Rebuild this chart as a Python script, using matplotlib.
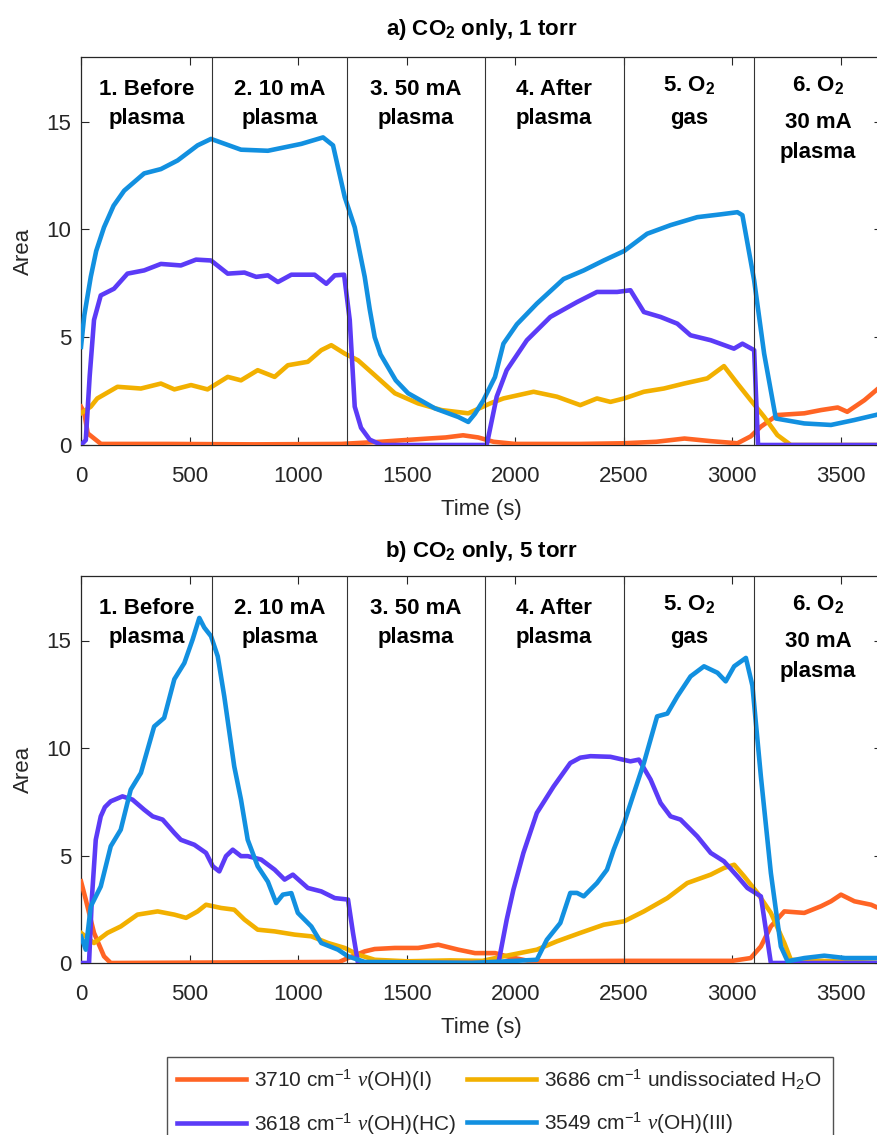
import numpy as np
import matplotlib.pyplot as plt

plt.rcParams['font.family'] = ['Liberation Sans', 'DejaVu Sans']
plt.rcParams['mathtext.fontset'] = 'custom'
plt.rcParams['mathtext.rm'] = 'Liberation Sans'
plt.rcParams['mathtext.it'] = 'Liberation Serif:italic'
plt.rcParams['mathtext.bf'] = 'Liberation Sans:bold'

# ---- data: time (s) and peak area ----
# a) CO2 only, 1 torr
a_oh1_t = [0, 15, 31, 92, 400, 800, 1200, 1380, 1450, 1600, 1680, 1760, 1830, 1900, 2000, 2300, 2500,
           2650, 2780, 2900, 3024, 3085, 3132, 3208, 3332, 3409, 3486, 3530, 3609, 3690]
a_oh1_v = [1.78, 1.5, 0.54, 0.05, 0.05, 0.03, 0.05, 0.15, 0.2, 0.3, 0.35, 0.45, 0.35, 0.15, 0.05, 0.05, 0.08,
           0.15, 0.3, 0.18, 0.08, 0.4, 0.85, 1.39, 1.47, 1.62, 1.74, 1.54, 2.08, 2.77]

a_h2o_t = [0, 45, 75, 168, 276, 368, 430, 507, 583, 676, 737, 814, 892, 953, 1045, 1107, 1153, 1215, 1276,
           1353, 1446, 1553, 1661, 1784, 1885, 1946, 2085, 2193, 2300, 2377, 2439, 2502, 2593, 2685, 2778,
           2885, 2962, 3024, 3085, 3147, 3208, 3270, 3690]
a_h2o_v = [1.47, 1.78, 2.16, 2.7, 2.62, 2.85, 2.58, 2.78, 2.58, 3.16, 3.0, 3.47, 3.16, 3.7, 3.86, 4.4, 4.63,
           4.24, 3.93, 3.24, 2.4, 1.93, 1.62, 1.47, 1.93, 2.16, 2.47, 2.24, 1.85, 2.16, 2.0, 2.16, 2.47, 2.62,
           2.85, 3.09, 3.66, 2.85, 2.08, 1.31, 0.46, 0.0, 0.0]

a_hc_t = [0, 22, 40, 60, 91, 152, 214, 291, 368, 460, 530, 599, 676, 753, 807, 861, 907, 969, 1076, 1130,
          1169, 1212, 1238, 1261, 1290, 1330, 1384, 1869, 1915, 1961, 2054, 2162, 2285, 2377, 2470, 2531,
          2593, 2670, 2747, 2808, 2901, 3008, 3047, 3101, 3119, 3690]
a_hc_v = [0, 0.23, 3.2, 5.8, 6.94, 7.25, 7.95, 8.1, 8.4, 8.33, 8.6, 8.56, 7.95, 8.0, 7.8, 7.87, 7.56, 7.9,
          7.9, 7.48, 7.87, 7.9, 5.8, 1.78, 0.8, 0.25, 0.0, 0.0, 2.24, 3.47, 4.86, 5.94, 6.63, 7.1, 7.1, 7.18,
          6.17, 5.94, 5.63, 5.09, 4.86, 4.47, 4.7, 4.4, 0.0, 0.0]

a_oh3_t = [0, 15, 45, 70, 106, 150, 199, 291, 368, 445, 537, 599, 737, 861, 1015, 1115, 1161, 1215, 1261,
           1307, 1330, 1353, 1380, 1415, 1450, 1507, 1630, 1738, 1784, 1815, 1854, 1907, 1946, 2008, 2100,
           2223, 2316, 2408, 2502, 2608, 2716, 2839, 2947, 3024, 3047, 3101, 3147, 3201, 3332, 3455, 3563,
           3690]
a_oh3_v = [4.55, 6.0, 7.8, 9.0, 10.1, 11.1, 11.8, 12.6, 12.8, 13.2, 13.9, 14.2, 13.7, 13.65, 13.97, 14.27,
           13.9, 11.5, 10.1, 7.8, 6.3, 5.0, 4.2, 3.6, 3.0, 2.4, 1.7, 1.3, 1.07, 1.45, 2.08, 3.15, 4.7, 5.6,
           6.56, 7.7, 8.1, 8.56, 9.0, 9.8, 10.2, 10.57, 10.7, 10.8, 10.66, 7.64, 4.24, 1.23, 1.0, 0.93, 1.16,
           1.46]

# b) CO2 only, 5 torr
b_oh1_t = [0, 22, 60, 106, 137, 1190, 1230, 1307, 1353, 1446, 1553, 1646, 1738, 1815, 1908, 1961, 2069,
           2500, 3000, 3085, 3132, 3178, 3240, 3332, 3409, 3455, 3501, 3563, 3640, 3690]
b_oh1_v = [3.8, 2.95, 1.4, 0.31, 0.0, 0.05, 0.23, 0.54, 0.65, 0.7, 0.7, 0.85, 0.62, 0.46, 0.46, 0.31, 0.08,
           0.1, 0.1, 0.23, 0.77, 1.7, 2.4, 2.33, 2.64, 2.87, 3.18, 2.87, 2.71, 2.48]

b_h2o_t = [0, 60, 122, 183, 260, 353, 430, 484, 537, 576, 645, 706, 753, 814, 892, 984, 1061, 1138, 1215,
           1276, 1353, 1500, 1700, 1850, 1946, 2100, 2193, 2300, 2408, 2502, 2593, 2701, 2793, 2901, 2962,
           3009, 3055, 3116, 3178, 3240, 3270, 3690]
b_h2o_v = [1.4, 0.93, 1.4, 1.7, 2.25, 2.4, 2.25, 2.1, 2.4, 2.71, 2.56, 2.48, 2.02, 1.55, 1.47, 1.32, 1.24,
           0.93, 0.7, 0.39, 0.15, 0.08, 0.12, 0.1, 0.31, 0.62, 1.01, 1.4, 1.78, 1.94, 2.4, 3.02, 3.72, 4.11,
           4.42, 4.57, 4.03, 3.26, 2.33, 0.93, 0.15, 0.0]

b_hc_t = [0, 37, 50, 68, 91, 110, 137, 191, 237, 291, 330, 376, 430, 460, 522, 576, 607, 637, 668, 699, 737,
          768, 830, 892, 938, 976, 1045, 1107, 1169, 1230, 1253, 1276, 1923, 1961, 1992, 2038, 2100, 2177,
          2254, 2300, 2347, 2439, 2531, 2570, 2624, 2670, 2716, 2762, 2839, 2901, 2962, 3024, 3070, 3132,
          3178, 3690]
b_hc_v = [0, 0, 3.0, 5.73, 6.82, 7.25, 7.52, 7.75, 7.6, 7.13, 6.82, 6.67, 6.05, 5.73, 5.5, 5.12, 4.5, 4.26,
          4.97, 5.27, 4.97, 4.97, 4.81, 4.34, 3.88, 4.11, 3.49, 3.33, 3.02, 2.95, 1.4, 0.0, 0.0, 2.01, 3.41,
          5.12, 6.98, 8.21, 9.3, 9.55, 9.62, 9.59, 9.38, 9.46, 8.53, 7.44, 6.82, 6.67, 5.89, 5.12, 4.73, 4.03,
          3.49, 3.1, 0.0, 0.0]

b_oh3_t = [0, 22, 45, 91, 137, 183, 229, 276, 337, 383, 430, 476, 514, 545, 568, 599, 630, 660, 706, 737,
           768, 814, 861, 899, 930, 969, 999, 1061, 1107, 1184, 1230, 1307, 1800, 2100, 2146, 2208, 2254,
           2285, 2316, 2377, 2423, 2454, 2502, 2547, 2593, 2654, 2701, 2747, 2808, 2870, 2932, 2970, 3009,
           3063, 3093, 3132, 3178, 3224, 3255, 3332, 3424, 3520, 3690]
b_oh3_v = [1.24, 0.62, 2.63, 3.56, 5.43, 6.2, 8.06, 8.84, 11.0, 11.4, 13.2, 13.95, 15.04, 16.05, 15.6, 15.2,
           14.26, 12.4, 9.14, 7.6, 5.73, 4.5, 3.78, 2.79, 3.18, 3.25, 2.33, 1.7, 0.93, 0.62, 0.31, 0.05, 0.0,
           0.15, 1.08, 1.86, 3.26, 3.26, 3.1, 3.72, 4.34, 5.27, 6.51, 7.9, 9.3, 11.47, 11.6, 12.4, 13.33,
           13.8, 13.5, 13.1, 13.8, 14.19, 12.9, 8.68, 4.19, 0.77, 0.08, 0.23, 0.34, 0.23, 0.23]

boundaries = [0, 605, 1225, 1860, 2500, 3100, 3690]
phase_names = [['1. Before', 'plasma'], ['2. 10 mA', 'plasma'], ['3. 50 mA', 'plasma'],
               ['4. After', 'plasma'], [r'5. O$_\mathbf{2}$', 'gas'],
               [r'6. O$_\mathbf{2}$', '30 mA', 'plasma']]
titles = [r'a) CO$_\mathbf{2}$ only, 1 torr', r'b) CO$_\mathbf{2}$ only, 5 torr']
labels = [r'3710 cm$^{-1}$ $\nu$(OH)(I)', r'3686 cm$^{-1}$ undissociated H$_2$O',
          r'3618 cm$^{-1}$ $\nu$(OH)(HC)', r'3549 cm$^{-1}$ $\nu$(OH)(III)']
colors = ['#FF6424', '#F2B000', '#5B3BF7', '#1290E0']

panels = [
    [(a_oh1_t, a_oh1_v), (a_h2o_t, a_h2o_v), (a_hc_t, a_hc_v), (a_oh3_t, a_oh3_v)],
    [(b_oh1_t, b_oh1_v), (b_h2o_t, b_h2o_v), (b_hc_t, b_hc_v), (b_oh3_t, b_oh3_v)],
]

fig = plt.figure(figsize=(8.77, 11.35), dpi=100)
ax_a = fig.add_axes([81/877, 1 - 445/1135, 801/877, 388/1135])
ax_b = fig.add_axes([81/877, 1 - 963/1135, 801/877, 387/1135])
title_y = [1 - 35/1135, 1 - 557/1135]

dark = '#262626'
handles = []
for ax, series, title, ty in zip([ax_a, ax_b], panels, titles, title_y):
    for b in boundaries[1:-1]:
        ax.axvline(b, color='#333333', lw=0.8, zorder=5)
    handles = []
    for (t, v), c in zip(series, colors):
        h, = ax.plot(t, v, color=c, lw=3.3, solid_joinstyle='round', zorder=3)
        handles.append(h)
    ax.set_xlim(0, 3690)
    ax.set_ylim(0, 18)
    ax.set_xticks(np.arange(0, 3501, 500))
    ax.set_yticks([0, 5, 10, 15])
    ax.tick_params(direction='in', top=True, right=True, length=6, width=0.8,
                   colors=dark, labelsize=16)
    ax.tick_params(axis='x', pad=15)
    ax.tick_params(axis='y', pad=7)
    for s in ax.spines.values():
        s.set_color(dark)
        s.set_linewidth(0.9)
    ax.set_xlabel('Time (s)', fontsize=16, color=dark, labelpad=9)
    ax.set_ylabel('Area', fontsize=16, color=dark, labelpad=9)
    fig.text(ax.get_position().x0 + ax.get_position().width / 2, ty, title,
             ha='center', va='baseline', fontsize=16, fontweight='bold')

    # phase labels centred in each section
    for i, lines in enumerate(phase_names):
        xc = (boundaries[i] + boundaries[i + 1]) / 2
        if len(lines) == 2 and 'O$' not in lines[0]:
            ys = [16.5, 15.15]
        elif len(lines) == 2:
            ys = [16.7, 15.15]
        else:
            ys = [16.7, 14.95, 13.55]
        for line, y in zip(lines, ys):
            ax.text(xc, y, line, ha='center', va='center', fontsize=16,
                    fontweight='bold', zorder=6)

order = [0, 2, 1, 3]
leg = fig.legend([handles[i] for i in order], [labels[i] for i in order], ncol=2,
                 loc='upper left', bbox_to_anchor=(167/877, 1 - 1057/1135),
                 fontsize=15, frameon=True, fancybox=False, edgecolor=dark,
                 handlelength=3.3, handletextpad=0.4, columnspacing=0.5,
                 borderpad=0.5, labelspacing=0.9, borderaxespad=0)
leg.get_frame().set_linewidth(1.0)
for txt in leg.get_texts():
    txt.set_color(dark)

fig.savefig('out.png', dpi=100)
